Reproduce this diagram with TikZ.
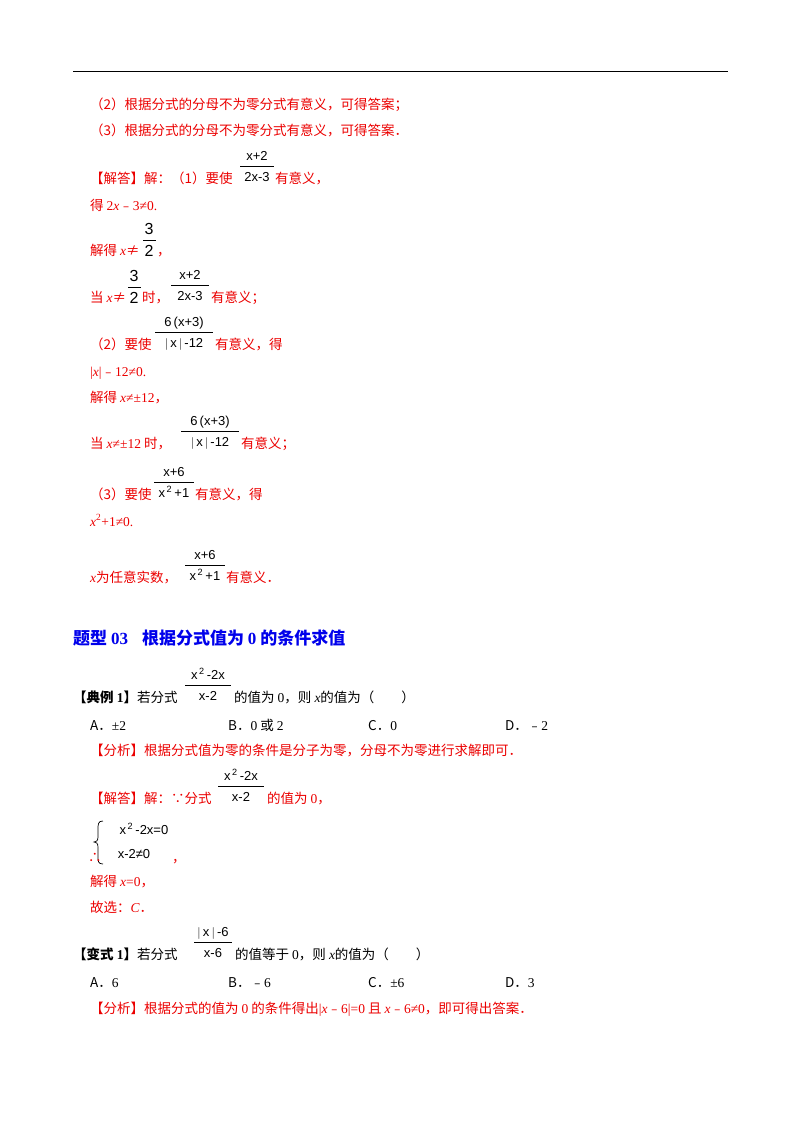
\documentclass[tikz,border=0pt]{standalone}
\usepackage{fontspec}
\setmainfont{Liberation Serif}
\newfontfamily\cn{Noto Sans CJK SC}
\newfontfamily\fs{Liberation Sans}
\definecolor{rd}{RGB}{235,0,0}
\definecolor{bl}{RGB}{0,0,235}
\newcommand{\vx}{{\rmfamily\itshape x}}
\newcommand{\nm}[1]{{\rmfamily #1}}
\newcommand{\mn}{{\cn ﹣}}
\tikzset{
  t/.style={anchor=base west,inner sep=0pt,font=\cn\fontsize{13.5}{14}\selectfont},
  r/.style={t,text=rd},
  fn/.style={anchor=base,inner sep=0pt,font=\fs\fontsize{13}{13}\selectfont},
}
% \frc{cx}{basey of denominator}{width}{num}{den}
\newcommand{\frc}[5]{%
  \node[fn] at (#1,#2-21) {#4};
  \draw[line width=0.8pt] (#1-#3/2,#2-15) -- (#1+#3/2,#2-15);
  \node[fn] at (#1,#2) {#5};}
\begin{document}
\begin{tikzpicture}[x=1pt,y=-1pt]
\useasboundingbox (0,0) rectangle (800,1132);
\draw[line width=1pt] (73,72) -- (728,72);
\node[r] at (90,109) {（2）根据分式的分母不为零分式有意义，可得答案；};
\node[r] at (90,135) {（3）根据分式的分母不为零分式有意义，可得答案．};
\node[r] at (90,183) {【解答】解：（1）要使};
\frc{257}{181}{34}{x+2}{2x-3}
\node[r] at (275,183) {有意义，};
\node[r] at (90,210) {得 \nm{2}\vx\mn\nm{3≠0.}};
\node[r] at (90,255) {解得 \vx≠};
\node[fn,font=\fs\fontsize{16}{16}\selectfont] at (149,234) {3};
\draw[line width=0.8pt] (143,240) -- (156,240);
\node[fn,font=\fs\fontsize{16}{16}\selectfont] at (149,256) {2};
\node[r] at (157,255) {，};
\node[r] at (90,302) {当 \vx≠};
\node[fn,font=\fs\fontsize{16}{16}\selectfont] at (134,281) {3};
\draw[line width=0.8pt] (128,287) -- (141,287);
\node[fn,font=\fs\fontsize{16}{16}\selectfont] at (134,303) {2};
\node[r] at (142,302) {时，};
\frc{190}{300}{38}{x+2}{2x-3}
\node[r] at (211,302) {有意义；};
\node[r] at (90,349) {（2）要使};
\frc{184}{347}{58}{6\,(x+3)}{$\vert$\,x\,$\vert$\,-12};
\node[r] at (215,349) {有意义，得};
\node[r] at (90,376) {\nm{|}\vx\nm{|}\mn\nm{12≠0.}};
\node[r] at (90,402) {解得 \vx\nm{≠±12}，};
\node[r] at (90,448) {当 \vx\nm{≠±12} 时，};
\frc{210}{446}{58}{6\,(x+3)}{$\vert$\,x\,$\vert$\,-12};
\node[r] at (241,448) {有意义；};
\node[r] at (90,499) {（3）要使};
\frc{174}{497}{40}{x+6}{x\textsuperscript{\,2}\,+1};
\node[r] at (195,499) {有意义，得};
\node[r] at (90,526) {\vx\nm{\textsuperscript{2}+1≠0.}};
\node[r] at (90,582) {\vx 为任意实数，};
\frc{205}{580}{40}{x+6}{x\textsuperscript{\,2}\,+1};
\node[r] at (226,582) {有意义．};
\node[t,text=bl,font=\cn\bfseries\fontsize{17}{17}\selectfont] at (73,644) {题型 \nm{\bfseries 03}\hspace{14pt}根据分式值为 \nm{\bfseries 0} 的条件求值};
\node[t] at (73,702) {\textbf{【典例 \nm{\bfseries 1}】}若分式};
\frc{208}{700}{46}{x\textsuperscript{\,2}\,-2x}{x-2};
\node[t] at (234,702) {的值为 \nm{0}，则 \vx 的值为（　　）};
\node[t] at (90,730) {A．\nm{±2}};
\node[t] at (228,730) {B．\nm{0} 或 \nm{2}};
\node[t] at (368,730) {C．\nm{0}};
\node[t] at (505,730) {D．\mn\nm{2}};
\node[r] at (90,755) {【分析】根据分式值为零的条件是分子为零，分母不为零进行求解即可．};
\node[r] at (90,803) {【解答】解：∵分式};
\frc{241}{801}{46}{x\textsuperscript{\,2}\,-2x}{x-2};
\node[r] at (267,803) {的值为 \nm{0}，};
\draw[line width=0.7pt] (103,821) .. controls (98,821) and (98,824) .. (98,830) -- (98,837) .. controls (98,841) and (96,842) .. (94,842) .. controls (96,842) and (98,843) .. (98,847) -- (98,856) .. controls (98,861) and (98,864) .. (103,864);
\node[fn] (s1) at (144,834) {x\textsuperscript{\,2}\,-2x=0};
\node[fn] (s2) at (134,858) {x-2≠0};
\node[r] at (88,862) {∴};
\node[r] at (172,862) {，};
\node[r] at (90,886) {解得 \vx\nm{=0}，};
\node[r] at (90,912) {故选：\nm{\itshape C}．};
\node[t] at (73,959) {\textbf{【变式 \nm{\bfseries 1}】}若分式};
\frc{213}{957}{38}{$\vert$\,x\,$\vert$\,-6}{x-6};
\node[t] at (235,959) {的值等于 \nm{0}，则 \vx 的值为（　　）};
\node[t] at (90,987) {A．\nm{6}};
\node[t] at (228,987) {B．\mn\nm{6}};
\node[t] at (368,987) {C．\nm{±6}};
\node[t] at (505,987) {D．\nm{3}};
\node[r] at (90,1013) {【分析】根据分式的值为 \nm{0} 的条件得出\nm{|}\vx\mn\nm{6|=0} 且 \vx\mn\nm{6≠0}，即可得出答案．};
\end{tikzpicture}
\end{document}
